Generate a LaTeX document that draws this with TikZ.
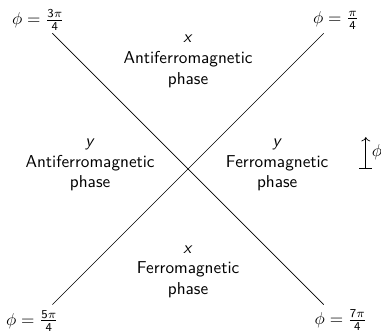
\documentclass[tikz,border=0pt]{standalone}
\usepackage{tikz}
\usetikzlibrary{arrows.meta, positioning, calc}
\usepackage{xcolor}
\newcommand{\PhaseFont}{\sffamily}
\newcommand{\axis}[1]{\textit{#1}}
\newcommand{\sfrac}[2]{\frac{\mathsf{#1}}{\mathsf{#2}}}
\tikzset{
  phaselabel/.style={align=center, font=\PhaseFont},
  anglelabel/.style={font=\PhaseFont}
}

\begin{document}
\begin{tikzpicture}
  \useasboundingbox (-3.84,-3.37) rectangle (3.94,3.45);
  % phase boundaries
  \coordinate (nw) at (-2.77,2.77);
  \coordinate (ne) at (2.77,2.77);
  \coordinate (sw) at (-2.77,-2.77);
  \coordinate (se) at (2.77,-2.77);
  \draw (nw) -- (se);
  \draw (ne) -- (sw);
  \node[anglelabel] (phiNW) at (-3.06,3.04) {$\phi=\frac{\mathsf{3}\pi}{\mathsf{4}}$};
  \node[anglelabel] (phiNE) at (3.02,3.04) {$\phi=\frac{\pi}{\mathsf{4}}$};
  \node[anglelabel] (phiSW) at (-3.18,-3.10) {$\phi=\frac{\mathsf{5}\pi}{\mathsf{4}}$};
  \node[anglelabel] (phiSE) at (3.12,-3.08) {$\phi=\frac{\mathsf{7}\pi}{\mathsf{4}}$};
  % phases
  \node[phaselabel] (xafm) at (0,2.2) {\axis{x}\\Antiferromagnetic\\phase};
  \node[phaselabel] (yafm) at (-2.0,0.08) {\axis{y}\\Antiferromagnetic\\phase};
  \node[phaselabel] (yfm) at (1.82,0.08) {\axis{y}\\Ferromagnetic\\phase};
  \node[phaselabel] (xfm) at (0,-2.1) {\axis{x}\\Ferromagnetic\\phase};
  % angle
  \coordinate (base) at (3.63,0.02);
  \coordinate (tip) at (3.63,0.65);
  \draw ($(base)+(-0.13,0)$) -- ($(base)+(0.13,0)$);
  \draw[->] (base) -- (tip) node[midway, right, anglelabel] (phiArrow) {$\phi$};
\end{tikzpicture}
\end{document}
